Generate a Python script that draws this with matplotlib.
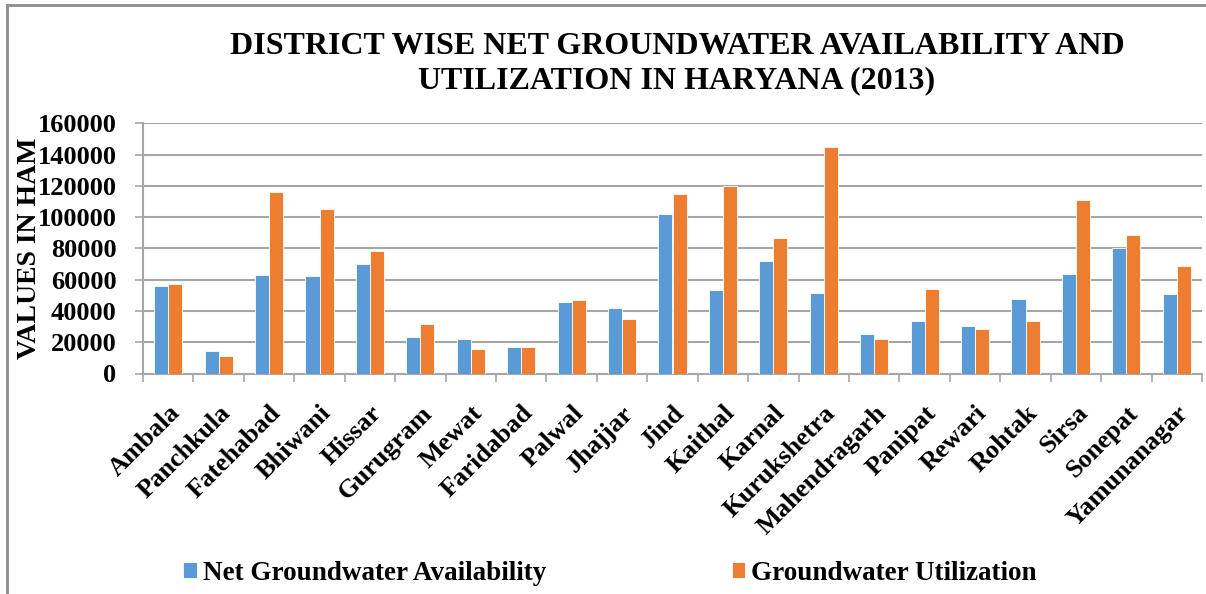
import numpy as np
import matplotlib
matplotlib.use("Agg")
import matplotlib.pyplot as plt
from matplotlib.lines import Line2D

districts = ["Ambala", "Panchkula", "Fatehabad", "Bhiwani", "Hissar", "Gurugram",
             "Mewat", "Faridabad", "Palwal", "Jhajjar", "Jind", "Kaithal", "Karnal",
             "Kurukshetra", "Mahendragarh", "Panipat", "Rewari", "Rohtak", "Sirsa",
             "Sonepat", "Yamunanagar"]
net_availability = [56100, 14300, 63100, 62100, 70000, 23500, 21800, 16900, 45900, 42200,
                    102000, 53300, 71900, 51400, 25400, 33300, 30700, 47600, 63600, 80200, 50800]
utilization = [57400, 11500, 116000, 105000, 78100, 31400, 16000, 16900, 46900, 35200,
               115000, 120300, 87000, 144800, 21800, 54000, 28200, 33300, 111300, 88500, 68700]
y_ticks = [0, 20000, 40000, 60000, 80000, 100000, 120000, 140000, 160000]

blue = "#5B9BD5"
orange = "#ED7D31"
grid_col = "#A6A6A6"
serif = ["Liberation Serif", "DejaVu Serif"]

fig = plt.figure(figsize=(12.06, 5.94), dpi=100)
ax = fig.add_axes([143 / 1206, 1 - 373.5 / 594, (1202 - 143) / 1206, 250 / 594])

x = np.arange(len(districts))
w = 0.28
ax.bar(x - w / 2, net_availability, w, color=blue, edgecolor="white", linewidth=0.6,
       label="Net Groundwater Availability", zorder=3)
ax.bar(x + w / 2, utilization, w, color=orange, edgecolor="white", linewidth=0.6,
       label="Groundwater Utilization", zorder=3)

ax.set_xlim(-0.5, len(districts) - 0.5)
ax.set_ylim(0, 160000)
ax.set_yticks(y_ticks)
ax.set_yticklabels([str(v) for v in y_ticks], fontfamily=serif, fontweight="bold", fontsize=19)
ax.yaxis.grid(True, color=grid_col, linewidth=1.5, zorder=0)
ax.tick_params(axis="y", length=6, width=1.2, color=grid_col, pad=13)

ax.set_xticks(x)
ax.set_xticklabels(districts, rotation=45, ha="right", va="top", rotation_mode="anchor",
                   fontfamily=serif, fontweight="bold", fontsize=19)
ax.tick_params(axis="x", which="major", length=0, pad=20)
ax.set_xticks(np.arange(-0.5, len(districts)), minor=True)
ax.tick_params(axis="x", which="minor", length=6, width=1.2, color=grid_col)

for s in ["top", "right"]:
    ax.spines[s].set_visible(False)
for s in ["left", "bottom"]:
    ax.spines[s].set_color(grid_col)
    ax.spines[s].set_linewidth(1.5)

fig.text(29 / 1206, 1 - 248 / 594, "VALUES IN HAM", rotation=90, ha="center", va="center",
         fontfamily=serif, fontweight="bold", fontsize=20)

fig.text(677 / 1206, 1 - 46 / 594, "DISTRICT WISE NET GROUNDWATER AVAILABILITY AND",
         ha="center", va="center", fontfamily=serif, fontweight="bold", fontsize=23)
fig.text(677 / 1206, 1 - 81 / 594, "UTILIZATION IN HARYANA (2013)",
         ha="center", va="center", fontfamily=serif, fontweight="bold", fontsize=23)

handles, labels = ax.get_legend_handles_labels()
fig.legend(handles, labels, loc="center", bbox_to_anchor=(610 / 1206, 1 - 573 / 594), ncol=2,
           frameon=False, prop={"family": serif, "weight": "bold", "size": 19.5},
           handlelength=0.5, handleheight=0.5, handletextpad=0.22, columnspacing=6.85)

# page frame around the chart
fig.add_artist(Line2D([7 / 1206, 7 / 1206], [0, 1 - 5 / 594], transform=fig.transFigure,
                      color="#8C8C8C", linewidth=2))
fig.add_artist(Line2D([7 / 1206, 1], [1 - 5 / 594, 1 - 5 / 594], transform=fig.transFigure,
                      color="#8C8C8C", linewidth=2))

fig.savefig("out.png", dpi=100)
